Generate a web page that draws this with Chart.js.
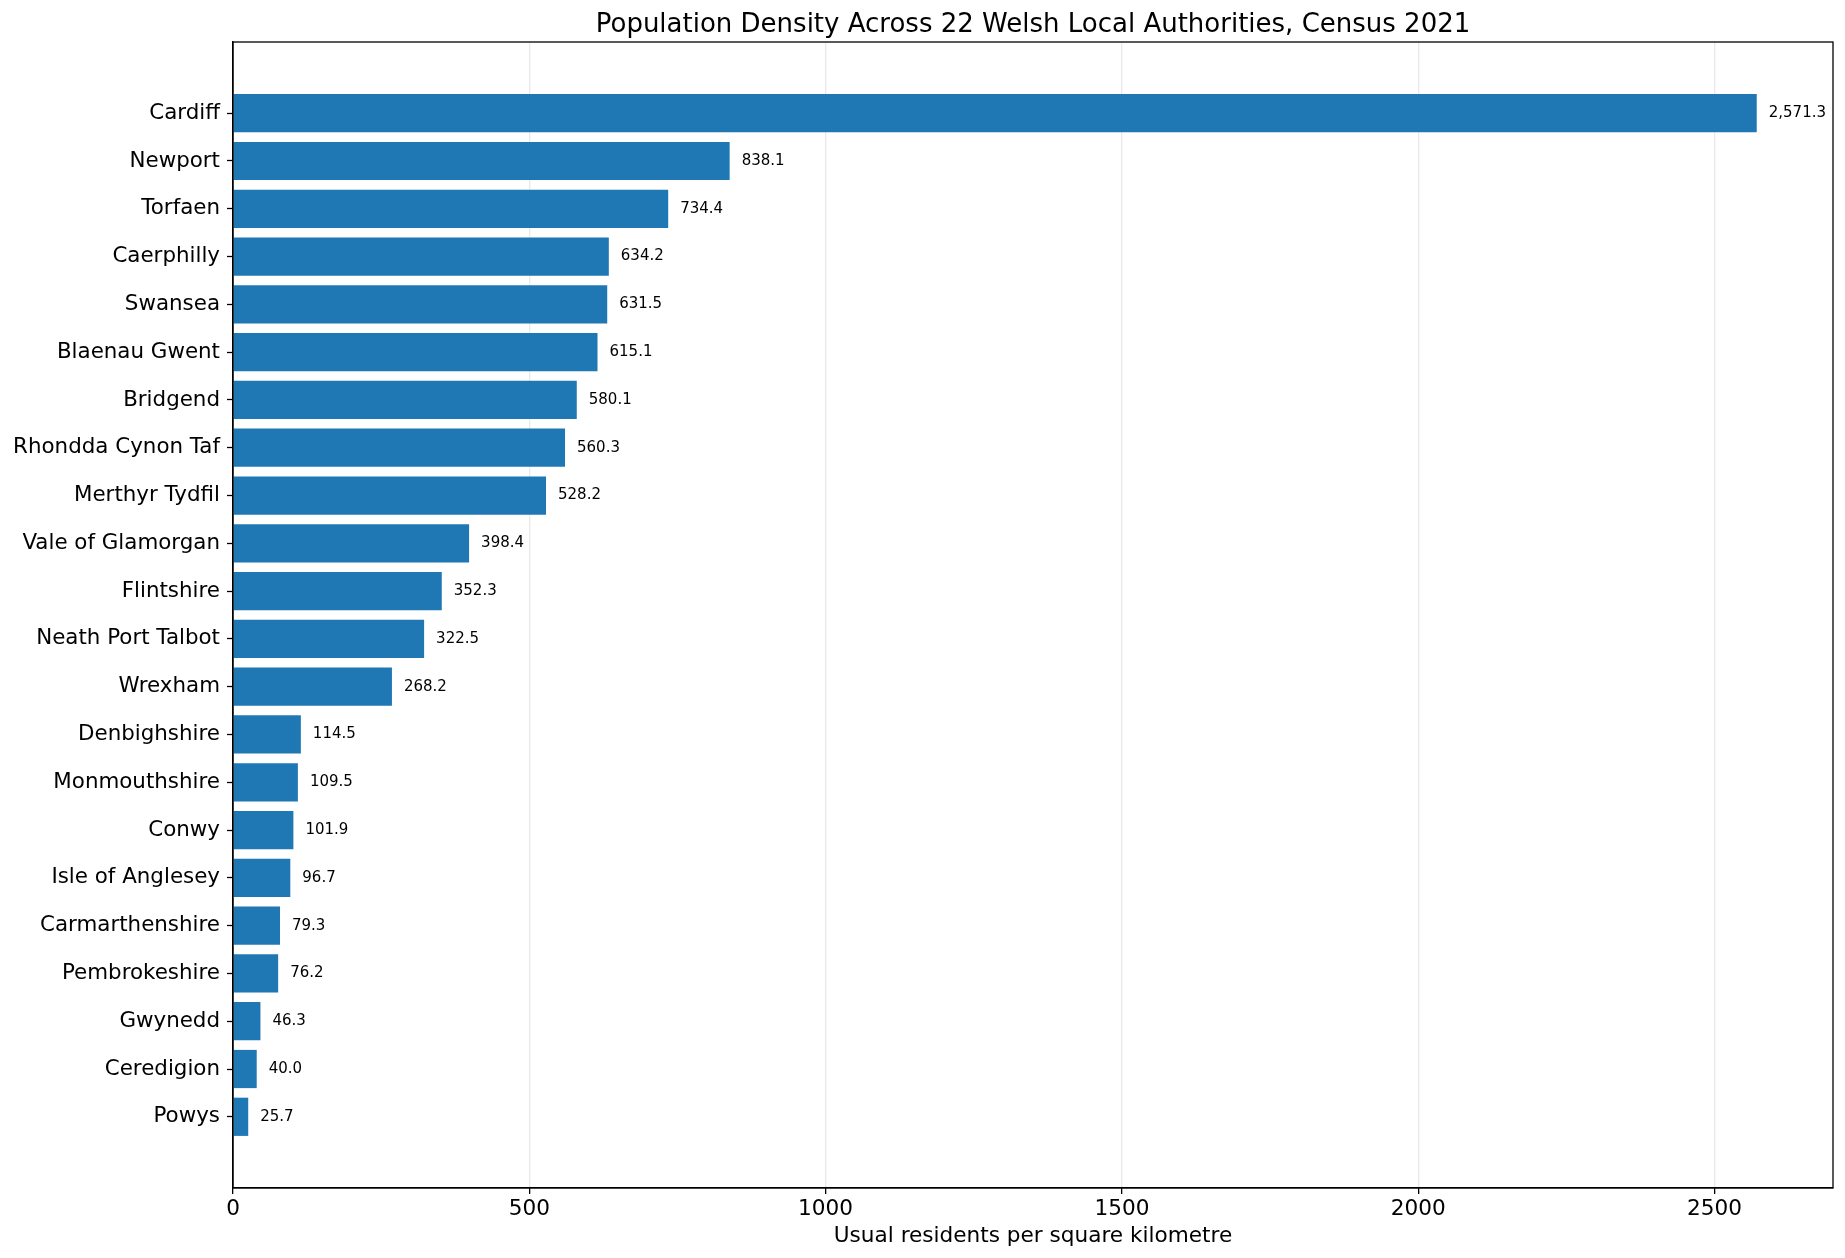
<!DOCTYPE html>
<html>
<head>
<meta charset="utf-8">
<script src="https://cdn.jsdelivr.net/npm/chart.js@4"></script>
<style>
  html, body { margin: 0; padding: 0; background: #fff; }
  #wrap { width: 1845px; height: 1258px; }
</style>
</head>
<body>
<div id="wrap"><canvas id="chartCanvas" width="1845" height="1258"></canvas></div>
<script>
// Census 2021 density, residents per km2 (sorted as in the figure)
const authorities = [
  'Cardiff', 'Newport', 'Torfaen', 'Caerphilly', 'Swansea', 'Blaenau Gwent',
  'Bridgend', 'Rhondda Cynon Taf', 'Merthyr Tydfil', 'Vale of Glamorgan',
  'Flintshire', 'Neath Port Talbot', 'Wrexham', 'Denbighshire', 'Monmouthshire',
  'Conwy', 'Isle of Anglesey', 'Carmarthenshire', 'Pembrokeshire', 'Gwynedd',
  'Ceredigion', 'Powys'
];
const density = [
  2571.3, 838.1, 734.4, 634.2, 631.5, 615.1,
  580.1, 560.3, 528.2, 398.4,
  352.3, 322.5, 268.2, 114.5, 109.5,
  101.9, 96.7, 79.3, 76.2, 46.3,
  40.0, 25.7
];
const xTicks = [0, 500, 1000, 1500, 2000, 2500];
const xMax = 2700;

const TITLE = 'Population Density Across 22 Welsh Local Authorities, Census 2021';
const FONT = "'DejaVu Sans', sans-serif";
const BAR_BLUE = '#1f77b4';

// value labels right of every bar
const valueLabels = {
  id: 'valueLabels',
  afterDatasetsDraw(chart) {
    const ctx = chart.ctx;
    const meta = chart.getDatasetMeta(0);
    ctx.save();
    ctx.font = '15px ' + FONT;
    ctx.fillStyle = '#000';
    ctx.textAlign = 'left';
    ctx.textBaseline = 'middle';
    meta.data.forEach((bar, i) => {
      const txt = density[i].toLocaleString('en-US', { minimumFractionDigits: 1, maximumFractionDigits: 1 });
      ctx.fillText(txt, bar.x + 12, bar.y);
    });
    ctx.restore();
  }
};

// box round the axes + title centred over the plot area (not the canvas)
const frame = {
  id: 'frame',
  afterDraw(chart) {
    const { left, top, right, bottom } = chart.chartArea;
    const ctx = chart.ctx;
    ctx.save();
    ctx.strokeStyle = '#000';
    ctx.lineWidth = 1.3;
    ctx.strokeRect(left, top, right - left, bottom - top);
    ctx.font = '26px ' + FONT;
    ctx.fillStyle = '#000';
    ctx.textAlign = 'center';
    ctx.textBaseline = 'alphabetic';
    ctx.fillText(TITLE, (left + right) / 2, 32);
    ctx.restore();
  }
};

new Chart(document.getElementById('chartCanvas'), {
  type: 'bar',
  data: {
    datasets: [{
      data: density.map((v, i) => ({ x: v, y: i })),
      backgroundColor: BAR_BLUE,
      borderWidth: 0,
      barPercentage: 0.8,
      categoryPercentage: 1.0
    }]
  },
  options: {
    indexAxis: 'y',
    responsive: false,
    devicePixelRatio: 1,
    animation: false,
    layout: { padding: { left: 0, right: 12, top: 42, bottom: 0 } },
    plugins: {
      legend: { display: false },
      tooltip: { enabled: false },
      title: { display: false }
    },
    scales: {
      x: {
        type: 'linear',
        position: 'bottom',
        min: 0,
        max: xMax,
        z: 1,
        afterBuildTicks: (axis) => { axis.ticks = xTicks.map(v => ({ value: v })); },
        afterFit: (axis) => { axis.height = 1258 - 1188; },
        ticks: {
          color: '#000',
          font: { family: FONT, size: 21.6 },
          padding: 2,
          maxRotation: 0,
          callback: (v) => String(v)
        },
        grid: {
          color: 'rgba(176,176,176,0.28)',
          lineWidth: 1.3,
          drawTicks: true,
          tickLength: 6,
          tickColor: '#000',
          tickWidth: 1.3
        },
        border: { display: true, color: '#000', width: 1.3 },
        title: {
          display: true,
          text: 'Usual residents per square kilometre',
          color: '#000',
          font: { family: FONT, size: 21.6 },
          padding: { top: 2, bottom: 9 }
        }
      },
      y: {
        type: 'linear',
        reverse: true,
        offset: false,
        min: -1.49,
        max: 22.49,
        afterBuildTicks: (axis) => { axis.ticks = authorities.map((_, i) => ({ value: i })); },
        afterFit: (axis) => { axis.width = 233; },
        ticks: {
          color: '#000',
          font: { family: FONT, size: 21.4 },
          padding: 7,
          autoSkip: false,
          callback: (v) => authorities[v]
        },
        grid: {
          offset: false,
          drawOnChartArea: false,
          drawTicks: true,
          tickLength: 6,
          tickColor: '#000',
          tickWidth: 1.3
        },
        border: { display: true, color: '#000', width: 1.3 }
      }
    }
  },
  plugins: [valueLabels, frame]
});
</script>
</body>
</html>
